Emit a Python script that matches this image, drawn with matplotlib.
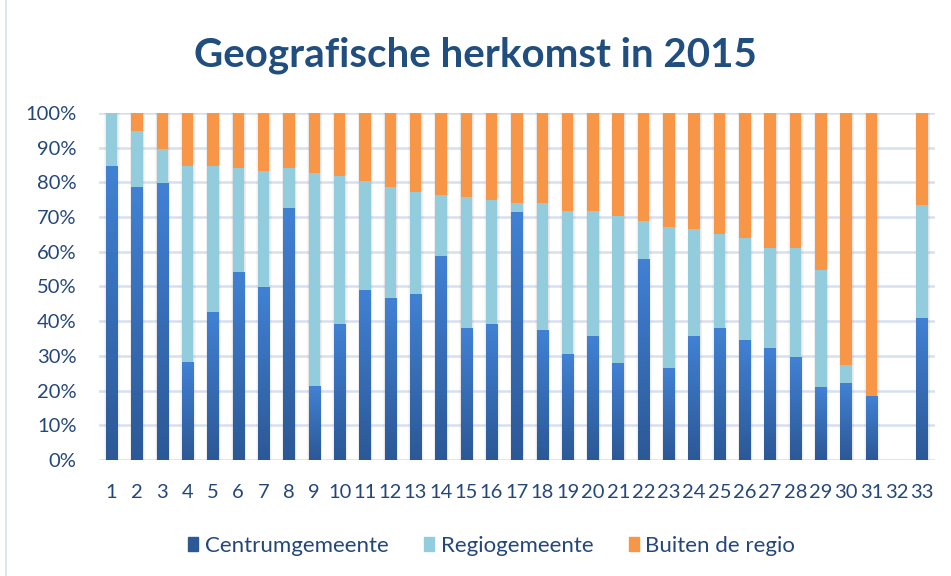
import numpy as np
import matplotlib
matplotlib.use('Agg')
import matplotlib.pyplot as plt
from matplotlib.colors import LinearSegmentedColormap
from matplotlib.patches import Rectangle

plt.rcParams['font.family'] = ['Lato', 'DejaVu Sans']

categories = [str(i) for i in range(1, 34)]
# percentages per category; category 32 is empty
centrum = [84.6, 78.6, 79.7, 28.0, 42.6, 54.1, 49.8, 72.6, 21.1, 38.9, 48.9,
           46.6, 47.8, 58.7, 38.0, 38.9, 71.2, 37.4, 30.5, 35.7, 27.9, 57.9,
           26.5, 35.7, 38.0, 34.3, 32.0, 29.4, 21.0, 21.9, 18.4, 0.0, 40.9]
cum_regio = [100.0, 94.7, 89.5, 84.6, 84.6, 84.1, 83.2, 84.1, 82.6, 81.8, 80.3,
             78.6, 77.2, 76.3, 75.7, 74.9, 74.0, 74.0, 71.7, 71.7, 70.2, 68.8,
             67.1, 66.5, 65.1, 63.9, 61.0, 61.0, 54.7, 27.3, 18.4, 0.0, 73.4]
totals = [100.0] * 31 + [0.0, 100.0]

regio = [r - c for r, c in zip(cum_regio, centrum)]
buiten = [t - r for t, r in zip(totals, cum_regio)]

c_blue_top = '#4181d4'
c_blue_bot = '#2c5896'
c_light = '#93cddd'
c_orange = '#f79646'
text_col = '#24477a'

fig = plt.figure(figsize=(9.51, 5.76), dpi=100)
ax = fig.add_axes([0.104, 0.2014, 0.879, 0.6026])

x = np.arange(1, 34)
w = 0.45
c = np.array(centrum) / 100
r = np.array(regio) / 100
b = np.array(buiten) / 100
tot = np.array(totals) / 100

# soft shadow behind the bars
for extra, a in [(0.16, 0.05), (0.10, 0.07), (0.05, 0.08)]:
    ax.bar(x + 0.02, tot, width=w + extra, color='#7f7f7f', alpha=a, zorder=1, linewidth=0)

ax.bar(x, c, width=w, color=c_blue_bot, zorder=2, linewidth=0)
ax.bar(x, r, width=w, bottom=c, color=c_light, zorder=2, linewidth=0)
ax.bar(x, b, width=w, bottom=c + r, color=c_orange, zorder=2, linewidth=0)

# gradient on the blue segments
cmap = LinearSegmentedColormap.from_list('bl', [c_blue_bot, c_blue_top])
grad = np.linspace(0, 1, 256).reshape(-1, 1)
for xi, ci in zip(x, c):
    if ci > 0:
        ax.imshow(grad, cmap=cmap, origin='lower', aspect='auto',
                  extent=[xi - w / 2, xi + w / 2, 0, ci], zorder=3)

ax.set_xlim(0.5, 33.5)
ax.set_ylim(0, 1)
ax.set_yticks(np.arange(0, 1.01, 0.1))
ax.set_yticklabels([f'{int(round(v * 100))}%' for v in np.arange(0, 1.01, 0.1)])
ax.set_xticks(x)
ax.set_xticklabels(categories)
ax.yaxis.grid(True, color='#d6e0ee', linewidth=1.8, zorder=0)
ax.set_axisbelow(True)
for s in ax.spines.values():
    s.set_visible(False)
ax.tick_params(axis='y', length=0, pad=16, labelsize=14.5, labelcolor=text_col)
ax.tick_params(axis='x', length=0, pad=17, labelsize=14.5, labelcolor=text_col)

fig.text(0.5, 1 - 67 / 576, 'Geografische herkomst in 2015', ha='center', va='baseline',
         fontsize=29, fontweight='bold', color='#1f4e7f')

handles = [Rectangle((0, 0), 1, 1, color=c_blue_bot),
           Rectangle((0, 0), 1, 1, color=c_light),
           Rectangle((0, 0), 1, 1, color=c_orange)]
leg = fig.legend(handles, ['Centrumgemeente', 'Regiogemeente', 'Buiten de regio'],
                 loc='center', bbox_to_anchor=(0.517, 0.052), ncol=3, frameon=False,
                 fontsize=16, handlelength=0.45, handleheight=0.6, handletextpad=0.3,
                 columnspacing=1.6)
for t in leg.get_texts():
    t.set_color(text_col)

# thin chart-area border
fig.patches.append(Rectangle((6 / 951, -0.01), 1.0, 1.02, transform=fig.transFigure,
                             fill=False, edgecolor='#d6e0ee', linewidth=1.2))

fig.savefig('out.png', dpi=100)
